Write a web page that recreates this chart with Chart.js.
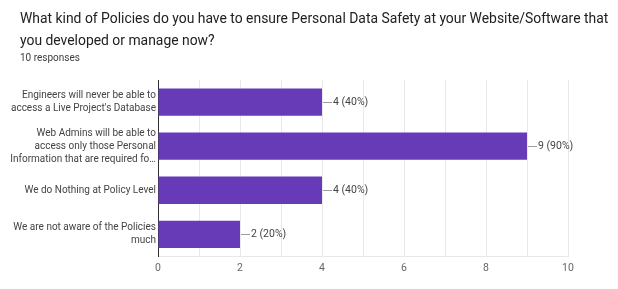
<!doctype html>
<html lang="en">
<head>
<meta charset="utf-8">
<title>Policies chart</title>
<script src="https://cdn.jsdelivr.net/npm/chart.js@4.4.0/dist/chart.umd.min.js"></script>
<style>
  html, body { margin: 0; padding: 0; background: #fff; }
  #wrap { position: relative; width: 618px; height: 289px; font-family: Roboto, Arial, sans-serif; }
  #title { position: absolute; left: 20px; top: 7px; font-size: 13.9px; line-height: 22px; color: #202124; white-space: nowrap; }
  #sub { position: absolute; left: 20px; top: 52px; font-size: 10px; color: #3c4043; }
  canvas { position: absolute; left: 0; top: 0; }
</style>
</head>
<body>
<div id="wrap">
  <canvas id="barChart" width="618" height="289"></canvas>
  <div id="title">What kind of Policies do you have to ensure Personal Data Safety at your Website/Software that<br>you developed or manage now?</div>
  <div id="sub">10 responses</div>
</div>
<script>
var categories = [
  ["Engineers will never be able to", "access a Live Project's Database"],
  ["Web Admins will be able to", "access only those Personal", "Information that are required fo\u2026"],
  ["We do Nothing at Policy Level"],
  ["We are not aware of the Policies", "much"]
];
var counts = [4, 9, 4, 2];
var percents = ["40%", "90%", "40%", "20%"];
var totalResponses = 10;

// little leader line + "n (p%)" after each bar
var valueLabels = {
  id: 'valueLabels',
  afterDatasetsDraw: function(chart) {
    var ctx = chart.ctx;
    var meta = chart.getDatasetMeta(0);
    ctx.save();
    ctx.font = '10.5px Roboto, Arial, sans-serif';
    ctx.textBaseline = 'middle';
    meta.data.forEach(function(bar, i) {
      var x = bar.x, y = bar.y;
      ctx.strokeStyle = '#9e9e9e';
      ctx.lineWidth = 1;
      ctx.beginPath();
      ctx.moveTo(x + 1, Math.round(y) + 0.5);
      ctx.lineTo(x + 10, Math.round(y) + 0.5);
      ctx.stroke();
      ctx.fillStyle = '#444';
      ctx.fillText(counts[i] + ' (' + percents[i] + ')', x + 11, y);
    });
    ctx.restore();
  }
};

new Chart(document.getElementById('barChart'), {
  type: 'bar',
  data: {
    labels: categories,
    datasets: [{
      data: counts,
      backgroundColor: '#673ab7',
      borderWidth: 0,
      barPercentage: 0.62,
      categoryPercentage: 1
    }]
  },
  options: {
    indexAxis: 'y',
    responsive: false,
    animation: false,
    layout: { padding: { top: 80, right: 50, bottom: 8, left: 0 } },
    plugins: { legend: { display: false }, tooltip: { enabled: false } },
    scales: {
      x: {
        min: 0,
        max: 10,
        ticks: {
          stepSize: 1,
          color: '#666',
          font: { family: 'Roboto, Arial, sans-serif', size: 10.5 },
          padding: 6,
          callback: function(v) { return v % 2 === 0 ? v : ''; }
        },
        grid: { color: '#e8e8e8', drawTicks: false },
        border: { color: '#e8e8e8' }
      },
      y: {
        ticks: {
          color: '#444',
          font: { family: 'Roboto, Arial, sans-serif', size: 10, lineHeight: 1.3 },
          padding: 2
        },
        grid: { display: false, drawTicks: false },
        border: { color: '#333', width: 1 },
        afterFit: function(scale) { scale.width = 158; }
      }
    }
  },
  plugins: [valueLabels]
});
</script>
</body>
</html>
